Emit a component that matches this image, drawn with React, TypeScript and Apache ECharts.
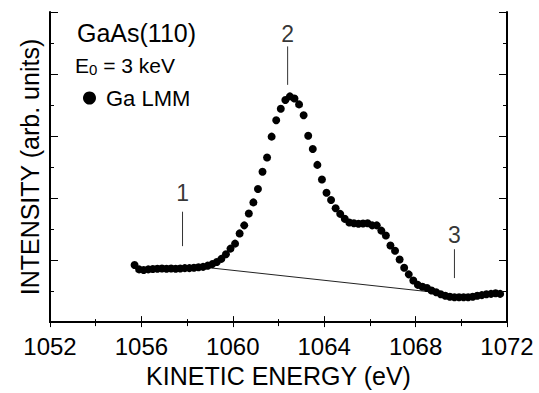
import React, { useEffect, useRef } from "react";
import * as echarts from "echarts";

const FONT = "'Liberation Sans', Arial, Helvetica, sans-serif";

const xTicks = [1052, 1056, 1060, 1064, 1068, 1072];

const energy = [
  1055.7, 1055.9, 1056.1, 1056.3, 1056.5, 1056.7, 1056.9, 1057.1, 1057.3, 1057.5,
  1057.7, 1057.9, 1058.1, 1058.3, 1058.5, 1058.7, 1058.9, 1059.1, 1059.3, 1059.5,
  1059.7, 1059.9, 1060.1, 1060.3, 1060.5, 1060.7, 1060.9, 1061.1, 1061.3, 1061.5,
  1061.7, 1061.9, 1062.1, 1062.3, 1062.5, 1062.7, 1062.9, 1063.1, 1063.3, 1063.5,
  1063.7, 1063.9, 1064.1, 1064.3, 1064.5, 1064.7, 1064.9, 1065.1, 1065.3, 1065.5,
  1065.7, 1065.9, 1066.1, 1066.3, 1066.5, 1066.7, 1066.9, 1067.1, 1067.3, 1067.5,
  1067.7, 1067.9, 1068.1, 1068.3, 1068.5, 1068.7, 1068.9, 1069.1, 1069.3, 1069.5,
  1069.7, 1069.9, 1070.1, 1070.3, 1070.5, 1070.7, 1070.9, 1071.1, 1071.3, 1071.5,
  1071.7,
];

const intensity = [
  1.84, 1.70, 1.68, 1.70, 1.71, 1.72, 1.73, 1.72, 1.73, 1.72,
  1.73, 1.74, 1.74, 1.75, 1.77, 1.78, 1.82, 1.87, 1.94, 2.04,
  2.19, 2.37, 2.53, 2.86, 3.12, 3.50, 3.86, 4.29, 4.85, 5.31,
  5.98, 6.51, 6.88, 7.16, 7.28, 7.21, 7.02, 6.67, 6.01, 5.58,
  5.07, 4.60, 4.17, 3.94, 3.67, 3.49, 3.33, 3.21, 3.19, 3.17,
  3.18, 3.19, 3.12, 3.12, 2.95, 2.79, 2.47, 2.30, 2.02, 1.75,
  1.54, 1.34, 1.20, 1.14, 1.10, 1.02, 0.96, 0.90, 0.85, 0.82,
  0.80, 0.80, 0.80, 0.80, 0.82, 0.85, 0.87, 0.90, 0.91, 0.93,
  0.91,
];

// straight background line
const backgroundLine = [
  [1059.0, 1.75],
  [1068.7, 0.97],
];

// feature markers: label, energy, line bottom, line top, label y
const markerLabels = ["1", "2", "3"];
const markerEnergy = [1057.8, 1062.4, 1069.7];
const markerLow = [2.45, 7.65, 1.42];
const markerHigh = [3.56, 8.89, 2.35];
const markerTextY = [4.15, 9.29, 2.81];

export default function App() {
  const ref = useRef<HTMLDivElement>(null);

  useEffect(() => {
    if (!ref.current) return;
    const chart = echarts.init(ref.current, undefined, { renderer: "svg" });

    const points = energy.map((e, i) => [e, intensity[i]]);

    const markerLineSeries = markerEnergy.map((e, i) => ({
      type: "line",
      name: "marker" + markerLabels[i],
      data: [
        [e, markerLow[i]],
        [e, markerHigh[i]],
      ],
      showSymbol: false,
      symbol: "none",
      lineStyle: { color: "#333", width: 1 },
      silent: true,
      z: 1,
    }));

    const axisCommonX = {
      type: "value",
      min: 1052,
      max: 1072,
      interval: 4,
      axisLine: { show: true, lineStyle: { color: "#000", width: 2 } },
      splitLine: { show: false },
    };
    const axisCommonY = {
      type: "value",
      min: 0,
      max: 10,
      interval: 2,
      axisLine: { show: true, lineStyle: { color: "#000", width: 2 } },
      splitLine: { show: false },
      axisLabel: { show: false },
      axisTick: { show: true, inside: true, length: 8, lineStyle: { color: "#000", width: 1 } },
      minorTick: { show: true, splitNumber: 2, length: 4, lineStyle: { color: "#000", width: 1 } },
    };

    chart.setOption({
      animation: false,
      backgroundColor: "#fff",
      textStyle: { fontFamily: FONT, color: "#000" },
      grid: { left: 50, right: 32, top: 12, bottom: 57, containLabel: false },
      legend: {
        show: true,
        data: ["Ga LMM"],
        left: 78,
        top: 82,
        icon: "circle",
        itemWidth: 13,
        itemHeight: 13,
        itemStyle: { color: "#000", opacity: 1 },
        textStyle: { fontFamily: FONT, fontSize: 22, color: "#000", padding: [0, 0, 0, 5] },
      },
      xAxis: [
        {
          ...axisCommonX,
          position: "bottom",
          name: "KINETIC ENERGY (eV)",
          nameLocation: "middle",
          nameGap: 35,
          nameTextStyle: { fontFamily: FONT, fontSize: 25, color: "#000" },
          axisLabel: {
            show: true,
            fontFamily: FONT,
            fontSize: 24,
            color: "#000",
            margin: 12,
            formatter: (v: number) => (xTicks.includes(v) ? String(v) : ""),
          },
          axisTick: { show: true, inside: true, length: 6, lineStyle: { color: "#000", width: 1 } },
          minorTick: { show: true, splitNumber: 2, length: 3, lineStyle: { color: "#000", width: 1 } },
        },
        {
          ...axisCommonX,
          position: "top",
          axisLabel: { show: false },
          axisTick: { show: true, inside: true, length: 5, lineStyle: { color: "#000", width: 1 } },
          minorTick: { show: true, splitNumber: 2, length: 4, lineStyle: { color: "#000", width: 1 } },
        },
      ],
      yAxis: [
        {
          ...axisCommonY,
          position: "left",
          name: "INTENSITY (arb. units)",
          nameLocation: "middle",
          nameGap: 8,
          nameTextStyle: { fontFamily: FONT, fontSize: 25, color: "#000" },
        },
        {
          ...axisCommonY,
          position: "right",
        },
      ],
      graphic: [
        {
          type: "text",
          left: 77,
          top: 20,
          style: { text: "GaAs(110)", font: `25px ${FONT}`, fill: "#000" },
        },
        {
          type: "text",
          left: 75,
          top: 55,
          style: {
            text: "{a|E}{s|0}{a| = 3 keV}",
            fill: "#000",
            rich: {
              a: { fontFamily: FONT, fontSize: 21, lineHeight: 23, verticalAlign: "middle", fill: "#000" },
              s: { fontFamily: FONT, fontSize: 15, lineHeight: 15, verticalAlign: "bottom", fill: "#000" },
            },
          },
        },
      ],
      series: [
        {
          type: "line",
          name: "background",
          data: backgroundLine,
          showSymbol: false,
          symbol: "none",
          lineStyle: { color: "#222", width: 1 },
          silent: true,
          z: 1,
        },
        ...markerLineSeries,
        {
          type: "scatter",
          name: "markerText",
          data: markerEnergy.map((e, i) => ({
            value: [e, markerTextY[i]],
            label: { formatter: markerLabels[i] },
          })),
          symbolSize: 1,
          itemStyle: { color: "rgba(0,0,0,0)" },
          label: {
            show: true,
            position: "inside",
            fontFamily: FONT,
            fontSize: 23,
            color: "#000",
          },
          silent: true,
        },
        {
          type: "scatter",
          name: "Ga LMM",
          data: points,
          symbol: "circle",
          symbolSize: 8,
          itemStyle: { color: "#000", opacity: 1 },
          z: 3,
        },
      ],
    });

    return () => chart.dispose();
  }, []);

  return (
    <div
      ref={ref}
      style={{ position: "absolute", left: 0, top: 0, width: 539, height: 393, background: "#fff" }}
    />
  );
}
